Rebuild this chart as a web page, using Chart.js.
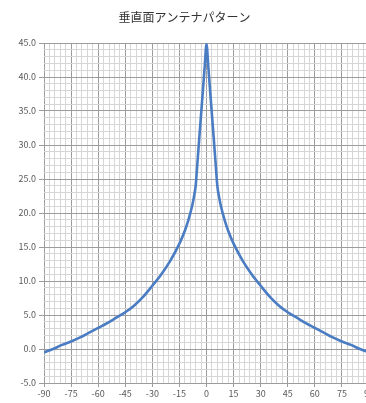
<!DOCTYPE html>
<html>
<head>
<meta charset="utf-8">
<script src="https://cdn.jsdelivr.net/npm/chart.js@4/dist/chart.umd.min.js"></script>
<style>
html,body{margin:0;padding:0;background:#fff;overflow:hidden;}
#wrap{width:369px;height:403px;}
</style>
</head>
<body>
<div id="wrap"><canvas id="c" width="369" height="403" style="width:369px;height:403px"></canvas></div>
<script>
const chartTitle = '垂直面アンテナパターン';
const angles = [-90,-85,-80,-75,-70,-65,-60,-55,-50,-45,-40,-35,-30,-25,-20,-15,-12,-10,-8,-7,-6,-5,-4,-3,-2,-1,0,
                1,2,3,4,5,6,7,8,10,12,15,20,25,30,35,40,45,50,55,60,65,70,75,80,85,90];
const levels = [-0.5,0.0,0.6,1.1,1.7,2.4,3.1,3.8,4.6,5.4,6.4,7.7,9.3,11.0,13.0,15.5,17.4,19.0,21.0,22.3,24.0,27.5,31.0,34.5,38.0,41.5,44.8,
                41.5,38.0,34.5,31.0,27.5,24.0,22.3,21.0,19.0,17.4,15.5,13.0,11.0,9.3,7.7,6.4,5.4,4.6,3.8,3.1,2.4,1.7,1.1,0.6,0.0,-0.5];
const xMin = -90, xMax = 90, xMinor = 3, xMajor = 15;
const yMin = -5, yMax = 45, yMinor = 1, yMajor = 5;

const pts = angles.map((a,i)=>({x:a,y:levels[i]}));
const majorCol = '#9c9c9c', minorCol = '#d6d6d6';

new Chart(document.getElementById('c'), {
  type: 'scatter',
  data: { datasets: [{
    data: pts, showLine: true, borderColor: '#4a7cc4', borderWidth: 2.6,
    pointRadius: 0, cubicInterpolationMode: 'monotone', fill: false
  }]},
  options: {
    responsive: false, animation: false,
    layout: { padding: 0 },
    plugins: {
      legend: { display: false },
      tooltip: { enabled: false },
      title: { display: true, text: chartTitle, color: '#333333',
        font: { family: '"Noto Sans CJK JP", sans-serif', size: 12, weight: 'normal', lineHeight: 1.2 },
        padding: { top: 10, bottom: 18.6 } }
    },
    scales: {
      x: {
        type: 'linear', min: xMin, max: xMax,
        afterFit: s => { s.height = 20; s.paddingLeft = 0; s.paddingRight = 0; },
        ticks: { stepSize: xMinor, autoSkip: false, maxRotation: 0, padding: 1,
          color: '#595959', font: { family: '"Noto Sans CJK JP", sans-serif', size: 9 },
          callback: v => (Math.round(v) % xMajor === 0 ? String(Math.round(v)) : '') },
        grid: { color: c => (c.tick && Math.round(c.tick.value) % xMajor === 0 ? majorCol : minorCol),
          tickColor: c => (c.tick && Math.round(c.tick.value) % xMajor === 0 ? majorCol : 'rgba(0,0,0,0)'),
          tickLength: 4, lineWidth: 1 },
        border: { display: false }
      },
      y: {
        type: 'linear', min: yMin, max: yMax,
        afterFit: s => { s.width = 44; s.paddingTop = 0; s.paddingBottom = 0; },
        ticks: { stepSize: yMinor, autoSkip: false, padding: 3,
          color: '#595959', font: { family: '"Noto Sans CJK JP", sans-serif', size: 9 },
          callback: v => (Math.round(v) % yMajor === 0 ? Number(v).toFixed(1) : '') },
        grid: { color: c => (c.tick && Math.round(c.tick.value) % yMajor === 0 ? majorCol : minorCol),
          tickColor: c => (c.tick && Math.round(c.tick.value) % yMajor === 0 ? majorCol : 'rgba(0,0,0,0)'),
          tickLength: 5, lineWidth: 1 },
        border: { display: false }
      }
    }
  }
});
</script>
</body>
</html>
